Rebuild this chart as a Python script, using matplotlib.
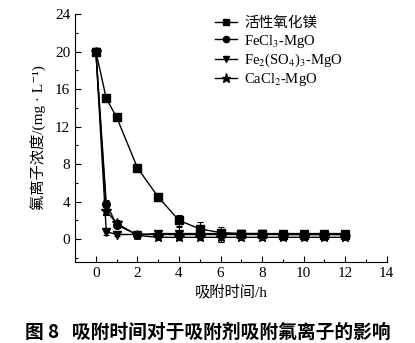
import numpy as np
import matplotlib.pyplot as plt
from matplotlib.lines import Line2D
from matplotlib.ticker import MultipleLocator

plt.rcParams['font.family'] = ['Liberation Serif', 'Noto Sans CJK SC', 'DejaVu Serif']
plt.rcParams['mathtext.fontset'] = 'stix'

# 数据
t = [0, 0.5, 1, 2, 3, 4, 5, 6, 7, 8, 9, 10, 11, 12]
mgo = [20, 15, 13, 7.6, 4.5, 2.0, 1.1, 0.7, 0.6, 0.6, 0.5, 0.5, 0.5, 0.5]
fecl3 = [20, 3.8, 1.5, 0.5, 0.5, 0.5, 0.5, 0.5, 0.5, 0.5, 0.5, 0.5, 0.5, 0.5]
fe2so4 = [20, 0.8, 0.5, 0.5, 0.6, 0.6, 0.6, 0.6, 0.6, 0.6, 0.6, 0.6, 0.6, 0.6]
cacl2 = [20, 3.0, 1.7, 0.4, 0.2, 0.2, 0.2, 0.2, 0.2, 0.2, 0.2, 0.2, 0.2, 0.2]
err_mgo = [0, 0.3, 0.3, 0.4, 0.4, 0.6, 0.7, 0.6, 0.4, 0.4, 0.3, 0.3, 0.3, 0.3]
err_fecl3 = [0, 0.4, 0.3, 0.2, 0.3, 0.3, 0.3, 0.4, 0.3, 0.3, 0.3, 0.3, 0.3, 0.3]
err_fe2so4 = [0, 0.4, 0.2, 0.2, 0.2, 0.7, 0.3, 0.3, 0.3, 0.3, 0.3, 0.3, 0.3, 0.3]
err_cacl2 = [0, 0.4, 0.3, 0.2, 0.3, 0.3, 0.3, 0.5, 0.3, 0.3, 0.3, 0.3, 0.3, 0.3]

labels = ['活性氧化镁', 'FeCl$_3$-MgO', 'Fe$_2$(SO$_4$)$_3$-MgO', 'CaCl$_2$-MgO']
markers = ['s', 'o', 'v', '*']

fig = plt.figure(figsize=(4.15, 3.43), dpi=100)
ax = fig.add_axes([0.181, 0.237, 0.751, 0.722])

series = [(mgo, err_mgo), (fecl3, err_fecl3), (fe2so4, err_fe2so4), (cacl2, err_cacl2)]
handles = []
for (y, e), lab, m in zip(series, labels, markers):
    ms = 7.5 if m == '*' else 5.5
    ax.errorbar(t, y, yerr=e, color='black', marker=m, markersize=ms,
                linewidth=1, elinewidth=0.8, capsize=2, capthick=0.8)
    handles.append(Line2D([], [], color='black', marker=m,
                          markersize=ms - 1, linewidth=1, label=lab))

ax.set_xlim(-1, 14)
ax.set_ylim(-2.4, 24)
ax.xaxis.set_major_locator(MultipleLocator(2))
ax.xaxis.set_minor_locator(MultipleLocator(1))
ax.yaxis.set_major_locator(MultipleLocator(4))
ax.yaxis.set_minor_locator(MultipleLocator(2))
ax.tick_params(which='both', direction='in', labelsize=11, width=0.8)
ax.tick_params(which='major', length=4)
ax.tick_params(which='minor', length=2)
ax.spines['top'].set_visible(False)
ax.spines['right'].set_visible(False)

ax.set_xlabel('吸附时间/h', fontsize=11, labelpad=4)
ax.set_ylabel('氟离子浓度/(mg · L⁻¹)', fontsize=11, labelpad=6)

ax.legend(handles=handles, loc='upper right', bbox_to_anchor=(0.895, 1.035),
          frameon=False, fontsize=10.5, handlelength=1.5, labelspacing=0.15,
          borderpad=0.3, handletextpad=0.5)

fig.text(0.5, 0.03, '图 8   吸附时间对于吸附剂吸附氟离子的影响',
         ha='center', va='center', fontsize=13.5, fontweight='bold',
         family=['Noto Sans CJK SC'])

plt.savefig('out.png', dpi=100)
